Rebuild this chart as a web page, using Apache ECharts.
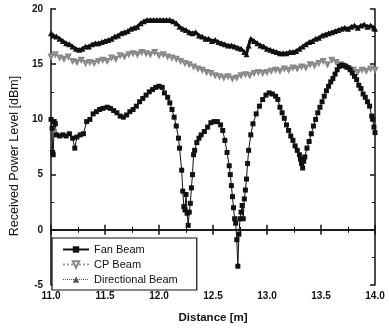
<!DOCTYPE html>
<html><head><meta charset="utf-8">
<script src="https://cdn.jsdelivr.net/npm/echarts@6/dist/echarts.min.js"></script>
<style>html,body{margin:0;padding:0;background:#fff}#c{width:389px;height:329px}</style>
</head><body><div id="c"></div>
<script>
const seriesNames = ["Fan Beam", "CP Beam", "Directional Beam"];
const xTicks = [11.0, 11.5, 12.0, 12.5, 13.0, 13.5, 14.0];
const yTicks = [-5, 0, 5, 10, 15, 20];

const fanX = [11.00,11.01,11.015,11.02,11.03,11.04,11.05,11.08,11.11,11.14,11.17,11.20,11.22,11.24,11.27,11.30,11.33,11.36,11.39,11.42,11.45,11.48,11.52,11.55,11.58,11.61,11.64,11.67,11.70,11.73,11.76,11.79,11.82,11.85,11.88,11.91,11.94,11.97,12.00,12.03,12.05,12.08,12.10,12.12,12.14,12.16,12.18,12.19,12.21,12.22,12.23,12.24,12.25,12.26,12.27,12.28,12.29,12.30,12.31,12.32,12.33,12.35,12.37,12.39,12.42,12.45,12.48,12.51,12.54,12.57,12.59,12.61,12.63,12.65,12.66,12.67,12.68,12.69,12.70,12.71,12.72,12.73,12.74,12.75,12.76,12.77,12.78,12.79,12.80,12.81,12.82,12.83,12.85,12.87,12.90,12.93,12.96,12.99,13.02,13.05,13.08,13.10,13.12,13.14,13.16,13.18,13.20,13.22,13.24,13.26,13.28,13.30,13.31,13.32,13.33,13.34,13.35,13.37,13.39,13.41,13.43,13.45,13.47,13.49,13.51,13.53,13.55,13.57,13.59,13.61,13.63,13.65,13.67,13.69,13.71,13.73,13.75,13.77,13.79,13.81,13.83,13.85,13.87,13.89,13.91,13.93,13.95,13.97,13.98,13.99,14.00];
const fanY = [10.0,9.2,7.0,6.8,9.8,9.6,8.6,8.5,8.6,8.5,8.7,8.3,7.4,8.4,8.6,8.7,9.8,10.0,10.5,10.7,10.9,11.0,11.1,11.0,10.8,10.6,10.3,10.2,10.4,10.7,10.9,11.2,11.6,11.9,12.2,12.5,12.7,12.9,13.0,12.9,12.4,12.0,11.5,10.9,10.2,9.4,8.3,7.4,5.4,3.5,2.1,1.8,3.2,1.5,0.4,1.6,2.4,3.8,5.0,6.8,7.2,7.9,8.3,8.6,8.9,9.3,9.7,9.8,9.8,9.5,9.0,8.1,7.0,5.8,5.0,4.0,3.0,2.0,1.0,0.6,-0.9,-3.3,-0.4,1.0,1.6,2.2,1.0,2.8,3.6,4.6,6.0,7.2,8.6,9.6,10.5,11.2,11.8,12.2,12.4,12.3,12.1,11.8,11.1,10.6,10.1,9.5,9.0,8.5,8.1,7.6,7.2,6.8,6.4,6.0,5.6,6.2,6.6,7.4,8.0,8.7,9.4,10.0,10.6,11.1,11.6,12.1,12.6,13.0,13.4,13.7,14.1,14.5,14.8,14.9,14.9,14.8,14.7,14.5,14.2,13.9,13.6,13.1,12.8,12.3,12.0,11.6,11.2,10.3,10.0,9.3,8.8];

const cpX = [11.00,11.04,11.08,11.12,11.16,11.20,11.24,11.28,11.32,11.36,11.40,11.44,11.48,11.52,11.56,11.60,11.64,11.68,11.72,11.76,11.80,11.84,11.88,11.92,11.96,12.00,12.04,12.08,12.12,12.16,12.20,12.24,12.28,12.32,12.36,12.40,12.44,12.48,12.52,12.56,12.60,12.64,12.68,12.72,12.76,12.80,12.84,12.88,12.92,12.96,13.00,13.04,13.08,13.12,13.16,13.20,13.24,13.28,13.32,13.36,13.40,13.44,13.48,13.52,13.56,13.60,13.64,13.68,13.72,13.76,13.80,13.84,13.88,13.92,13.96,14.00];
const cpY = [15.7,15.9,15.6,15.5,15.7,15.3,15.2,15.4,15.1,15.2,15.1,15.3,15.4,15.3,15.6,15.5,15.8,15.7,15.9,16.0,15.9,16.1,16.0,15.9,16.1,15.8,15.9,15.7,15.6,15.5,15.3,15.1,15.0,14.8,14.6,14.5,14.3,14.2,14.0,13.9,13.8,13.9,13.7,13.8,14.0,14.1,14.0,14.2,14.3,14.2,14.3,14.4,14.5,14.4,14.6,14.5,14.7,14.6,14.8,14.7,15.0,14.9,15.1,15.3,15.0,15.4,15.2,15.0,14.8,14.6,14.5,14.3,14.5,14.4,14.6,14.5];

const dirX = [11.00,11.02,11.05,11.08,11.11,11.14,11.17,11.20,11.23,11.26,11.29,11.32,11.35,11.38,11.41,11.44,11.47,11.50,11.53,11.56,11.59,11.62,11.65,11.68,11.71,11.74,11.77,11.80,11.83,11.86,11.89,11.92,11.95,11.98,12.01,12.04,12.07,12.10,12.13,12.16,12.19,12.22,12.25,12.28,12.31,12.34,12.37,12.40,12.43,12.46,12.49,12.52,12.55,12.58,12.61,12.64,12.67,12.70,12.73,12.76,12.79,12.81,12.83,12.85,12.88,12.91,12.94,12.97,13.00,13.03,13.06,13.09,13.12,13.15,13.18,13.21,13.24,13.27,13.30,13.33,13.36,13.39,13.42,13.45,13.48,13.51,13.54,13.57,13.60,13.63,13.66,13.69,13.72,13.75,13.78,13.81,13.84,13.87,13.90,13.93,13.96,13.99,14.00];
const dirY = [17.8,17.6,17.5,17.3,17.1,16.9,16.8,16.6,16.4,16.3,16.4,16.6,16.6,16.8,16.9,16.9,17.0,17.1,17.2,17.3,17.5,17.6,17.8,17.9,18.0,18.2,18.3,18.4,18.7,18.9,19.0,19.0,19.0,19.0,19.0,19.0,19.0,19.0,18.9,18.7,18.4,18.2,18.1,17.9,17.8,17.9,17.6,17.5,17.3,17.3,17.1,17.2,17.0,16.9,16.8,16.7,16.7,16.6,16.5,16.4,16.1,15.9,16.7,17.3,17.1,16.9,16.7,16.6,16.4,16.3,16.2,16.1,16.0,16.0,16.0,16.1,16.1,16.2,16.4,16.6,16.8,17.0,17.1,17.3,17.4,17.6,17.7,17.8,17.9,18.0,18.1,18.2,18.3,18.2,18.4,18.5,18.3,18.5,18.6,18.4,18.5,18.3,18.2];

const zip = (xs, ys) => xs.map((x, i) => [x, ys[i]]);
const INK = '#111';
const FONT = '"Liberation Sans", Arial, sans-serif';

const chart = echarts.init(document.getElementById('c'), null, {renderer: 'canvas'});
const axisCommon = {
  axisLine: {show: true, lineStyle: {color: INK, width: 1.5}},
  axisTick: {show: true, inside: true, length: 5, lineStyle: {color: INK, width: 1.5}},
  minorTick: {show: true, splitNumber: 2, length: 3, lineStyle: {color: INK, width: 1}},
  splitLine: {show: false}
};
chart.setOption({
  animation: false,
  backgroundColor: '#fff',
  grid: {left: 48, right: 14, top: 9, bottom: 36, containLabel: false},
  xAxis: [
    Object.assign({type: 'value', min: xTicks[0], max: xTicks[xTicks.length-1], interval: 0.5,
      name: 'Distance [m]', nameLocation: 'middle', nameGap: 27,
      nameTextStyle: {fontFamily: FONT, fontSize: 11.5, fontWeight: 'bold', color: INK},
      axisLabel: {fontFamily: FONT, fontSize: 10, fontWeight: 'bold', color: INK, margin: 6,
        formatter: v => v.toFixed(1)}}, axisCommon),
    Object.assign({type: 'value', position: 'top', min: xTicks[0], max: xTicks[xTicks.length-1], interval: 0.5,
      axisLabel: {show: false}}, axisCommon)
  ],
  yAxis: [
    Object.assign({type: 'value', min: yTicks[0], max: yTicks[yTicks.length-1], interval: 5,
      name: 'Received Power Level [dBm]', nameLocation: 'middle', nameGap: 22,
      nameTextStyle: {fontFamily: FONT, fontSize: 12.5, color: INK, padding: [0, 18, 0, 0]},
      axisLabel: {fontFamily: FONT, fontSize: 10, fontWeight: 'bold', color: INK, margin: 8}}, axisCommon),
    Object.assign({type: 'value', position: 'right', min: yTicks[0], max: yTicks[yTicks.length-1], interval: 5,
      axisLabel: {show: false}}, axisCommon)
  ],
  legend: {
    left: 52, top: 238, orient: 'vertical',
    data: [
      {name: seriesNames[0]},
      {name: seriesNames[1]},
      {name: seriesNames[2], lineStyle: {type: 'dotted', width: 1, color: '#555'}, itemStyle: {color: '#555'}}
    ],
    backgroundColor: '#fff', borderColor: INK, borderWidth: 1.2, borderRadius: 0,
    padding: [6, 19, 5, 10], itemGap: 4, itemWidth: 26, itemHeight: 8,
    textStyle: {fontFamily: FONT, fontSize: 11, color: INK}
  },
  series: [
    {name: seriesNames[2], type: 'line', data: zip(dirX, dirY), symbol: 'triangle', symbolSize: 6,
      showAllSymbol: true, z: 2,
      lineStyle: {color: INK, width: 3, type: 'solid'}, itemStyle: {color: INK}},
    {name: seriesNames[1], type: 'line', data: zip(cpX, cpY), symbol: 'emptyTriangle', symbolRotate: 180,
      symbolSize: 4, showAllSymbol: true, z: 3,
      lineStyle: {color: '#999', width: 1, type: 'dotted'}, itemStyle: {color: '#888', borderWidth: 0.8}},
    {name: seriesNames[0], type: 'line', data: zip(fanX, fanY), symbol: 'rect', symbolSize: 5,
      showAllSymbol: true, z: 4,
      lineStyle: {color: INK, width: 1}, itemStyle: {color: INK}}
  ]
});
</script></body></html>
